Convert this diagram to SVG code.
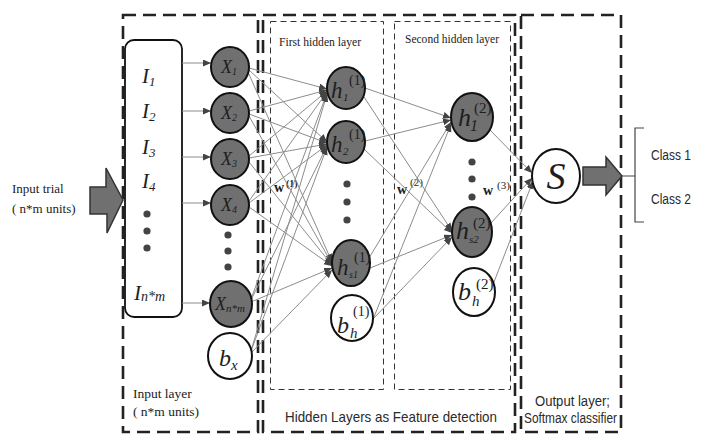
<svg xmlns="http://www.w3.org/2000/svg" width="704" height="435" viewBox="0 0 704 435">
<style>
.outer{fill:none;stroke:#222;stroke-width:2.6;stroke-dasharray:13 7}
.inner{fill:none;stroke:#333;stroke-width:1;stroke-dasharray:6 4}
.c{stroke:#8c8c8c;stroke-width:1;fill:none;marker-end:url(#ah)}
.g{fill:#707070;stroke:#111;stroke-width:2}
.w{fill:#fff;stroke:#111;stroke-width:2}
.ser{font-family:"Liberation Serif","Times New Roman",serif;fill:#222}
.it{font-family:"Liberation Serif","Times New Roman",serif;font-style:italic;fill:#1e1e1e}
.up{font-family:"Liberation Serif","Times New Roman",serif;fill:#1e1e1e}
.sans{font-family:"Liberation Sans",Arial,sans-serif;fill:#2a2a2a}
.bigarrow{fill:#707070;stroke:#333;stroke-width:1.5}
</style>
<defs>
<marker id="ah" markerUnits="userSpaceOnUse" markerWidth="9" markerHeight="8" refX="8" refY="3.5" orient="auto">
<path d="M0,0 L8,3.5 L0,7 z" fill="#444"/>
</marker>
</defs>
<rect width="704" height="435" fill="#fff"/>

<g id="frames">
<rect class="outer" x="123" y="15" width="135" height="417"/>
<rect class="outer" x="263" y="15" width="252" height="417"/>
<rect class="outer" x="521" y="15" width="100" height="417"/>
<rect class="inner" x="270.5" y="21.5" width="113" height="368"/>
<rect class="inner" x="394.5" y="21.5" width="116" height="368"/>
</g>

<g id="labels">
<text class="ser" x="12" y="193" font-size="13">Input trial</text>
<text class="ser" x="12" y="213" font-size="13">( n*m units)</text>
<text class="ser" x="133" y="398" font-size="13.5">Input layer</text>
<text class="ser" x="133" y="416" font-size="13.5">( n*m units)</text>
<text class="ser" x="279" y="46" font-size="13.5" textLength="82" lengthAdjust="spacingAndGlyphs">First hidden layer</text>
<text class="ser" x="405" y="43" font-size="13.5" textLength="94" lengthAdjust="spacingAndGlyphs">Second hidden layer</text>
<text class="sans" x="285" y="422" font-size="15" textLength="212" lengthAdjust="spacingAndGlyphs">Hidden Layers as Feature detection</text>
<text class="sans" x="535" y="406" font-size="14" textLength="75" lengthAdjust="spacingAndGlyphs">Output layer;</text>
<text class="sans" x="524" y="423" font-size="14" textLength="93" lengthAdjust="spacingAndGlyphs">Softmax classifier</text>
<text class="sans" x="651" y="160" font-size="14" textLength="40" lengthAdjust="spacingAndGlyphs">Class 1</text>
<text class="sans" x="651" y="204" font-size="14" textLength="40" lengthAdjust="spacingAndGlyphs">Class 2</text>
<text class="up" x="274" y="192" font-size="14" font-weight="bold">w</text>
<text class="up" x="286" y="187" font-size="10" font-weight="bold">(1)</text>
<text class="up" x="397" y="194" font-size="14" font-weight="bold">w</text>
<text class="up" x="410" y="186" font-size="11">(2)</text>
<text class="up" x="483" y="195" font-size="14" font-weight="bold">w</text>
<text class="up" x="497" y="189" font-size="11">(3)</text>
</g>

<g id="input-arrow">
<polygon class="bigarrow" points="90,187 106,187 106,168 123,200 107,233 107,214 90,214"/>
</g>

<g id="input-box">
<rect x="125" y="40" width="57" height="277" rx="9" fill="#fff" stroke="#111" stroke-width="1.8"/>
<text class="it" x="142" y="83" font-size="21">I<tspan font-size="13" dy="3">1</tspan></text>
<text class="it" x="142" y="118" font-size="21">I<tspan font-size="13" dy="3">2</tspan></text>
<text class="it" x="142" y="154" font-size="21">I<tspan font-size="13" dy="3">3</tspan></text>
<text class="it" x="142" y="188" font-size="21">I<tspan font-size="13" dy="3">4</tspan></text>
<circle cx="147" cy="214" r="3.6" fill="#444"/>
<circle cx="147" cy="231" r="3.6" fill="#444"/>
<circle cx="147" cy="248" r="3.6" fill="#444"/>
<text class="it" x="134" y="300" font-size="21">I<tspan font-size="14" dy="1">n*m</tspan></text>
</g>

<g id="connectors">
<line class="c" x1="182" y1="63" x2="211" y2="63"/>
<line class="c" x1="182" y1="111" x2="211" y2="111"/>
<line class="c" x1="182" y1="157" x2="211" y2="157"/>
<line class="c" x1="182" y1="203" x2="211" y2="203"/>
<line class="c" x1="182" y1="303" x2="210" y2="303"/>

<line class="c" x1="249" y1="68" x2="327" y2="89"/>
<line class="c" x1="249" y1="70" x2="327" y2="142"/>
<line class="c" x1="248" y1="72" x2="332" y2="262"/>
<line class="c" x1="249" y1="111" x2="327" y2="90"/>
<line class="c" x1="249" y1="114" x2="327" y2="143"/>
<line class="c" x1="249" y1="116" x2="332" y2="264"/>
<line class="c" x1="249" y1="156" x2="327" y2="91"/>
<line class="c" x1="249" y1="158" x2="327" y2="144"/>
<line class="c" x1="249" y1="162" x2="332" y2="265"/>
<line class="c" x1="249" y1="201" x2="327" y2="92"/>
<line class="c" x1="249" y1="203" x2="327" y2="145"/>
<line class="c" x1="249" y1="207" x2="332" y2="266"/>
<line class="c" x1="251" y1="299" x2="327" y2="93"/>
<line class="c" x1="251" y1="300" x2="327" y2="146"/>
<line class="c" x1="251" y1="302" x2="332" y2="268"/>
<line class="c" x1="251" y1="351" x2="327" y2="94"/>
<line class="c" x1="251" y1="351" x2="327" y2="147"/>
<line class="c" x1="251" y1="353" x2="332" y2="270"/>

<line class="c" x1="365" y1="88" x2="451" y2="118"/>
<line class="c" x1="364" y1="97" x2="452" y2="231"/>
<line class="c" x1="365" y1="141" x2="451" y2="120"/>
<line class="c" x1="364" y1="149" x2="452" y2="233"/>
<line class="c" x1="369" y1="258" x2="451" y2="122"/>
<line class="c" x1="370" y1="268" x2="452" y2="235"/>
<line class="c" x1="372" y1="322" x2="451" y2="124"/>
<line class="c" x1="372" y1="320" x2="452" y2="237"/>

<line class="c" x1="490" y1="130" x2="532" y2="173"/>
<line class="c" x1="491" y1="223" x2="532" y2="178"/>
<line class="c" x1="494" y1="282" x2="533" y2="181"/>
</g>

<g id="node-x1"><ellipse class="g" cx="230" cy="67" rx="19" ry="20"/><text class="it" x="221" y="73" font-size="18">X<tspan font-size="10" dy="2">1</tspan></text></g>
<g id="node-x2"><ellipse class="g" cx="230" cy="113" rx="19" ry="20"/><text class="it" x="221" y="119" font-size="18">X<tspan font-size="10" dy="2">2</tspan></text></g>
<g id="node-x3"><ellipse class="g" cx="230" cy="159" rx="19" ry="20"/><text class="it" x="221" y="165" font-size="18">X<tspan font-size="10" dy="2">3</tspan></text></g>
<g id="node-x4"><ellipse class="g" cx="230" cy="205" rx="19" ry="20"/><text class="it" x="221" y="211" font-size="18">X<tspan font-size="10" dy="2">4</tspan></text></g>
<g id="dots-x"><circle cx="228" cy="235" r="3.6" fill="#444"/><circle cx="228" cy="251" r="3.6" fill="#444"/><circle cx="228" cy="267" r="3.6" fill="#444"/></g>
<g id="node-xnm"><ellipse class="g" cx="231" cy="304" rx="21" ry="23"/><text class="it" x="215" y="310" font-size="18">X<tspan font-size="11" dy="2">n*m</tspan></text></g>
<g id="node-bx"><ellipse class="w" cx="230" cy="356" rx="22" ry="23"/><text class="it" x="219" y="366" font-size="24">b<tspan font-size="15" dy="4">x</tspan></text></g>

<g id="node-h1-1"><ellipse class="g" cx="346" cy="88" rx="19" ry="21"/><text class="it" x="331" y="98" font-size="23">h</text><text class="it" x="343" y="101" font-size="11">1</text><text class="up" x="349" y="85" font-size="14">(1)</text></g>
<g id="node-h2-1"><ellipse class="g" cx="346" cy="142" rx="19" ry="21"/><text class="it" x="331" y="152" font-size="23">h</text><text class="it" x="343" y="155" font-size="11">2</text><text class="up" x="349" y="139" font-size="14">(1)</text></g>
<g id="dots-h1"><circle cx="347" cy="184" r="3.6" fill="#444"/><circle cx="347" cy="202" r="3.6" fill="#444"/><circle cx="347" cy="220" r="3.6" fill="#444"/></g>
<g id="node-hs1"><ellipse class="g" cx="351" cy="263" rx="19" ry="23"/><text class="it" x="337" y="275" font-size="23">h</text><text class="it" x="349" y="278" font-size="10">s1</text><text class="up" x="354" y="262" font-size="14">(1)</text></g>
<g id="node-bh1"><ellipse class="w" cx="352" cy="318" rx="21" ry="23"/><text class="it" x="337" y="333" font-size="24">b</text><text class="it" x="350" y="338" font-size="15">h</text><text class="up" x="353" y="316" font-size="14">(1)</text></g>

<g id="node-h1-2"><ellipse class="g" cx="472" cy="117" rx="21" ry="24"/><text class="it" x="458" y="126" font-size="26">h</text><text class="it" x="470" y="131" font-size="16">1</text><text class="up" x="474" y="113" font-size="15">(2)</text></g>
<g id="dots-h2"><circle cx="472" cy="162" r="3.6" fill="#444"/><circle cx="472" cy="179" r="3.6" fill="#444"/><circle cx="472" cy="197" r="3.6" fill="#444"/></g>
<g id="node-hs2"><ellipse class="g" cx="472" cy="232" rx="20" ry="25"/><text class="it" x="456" y="239" font-size="26">h</text><text class="it" x="469" y="243" font-size="11">s2</text><text class="up" x="473" y="228" font-size="15">(2)</text></g>
<g id="node-bh2"><ellipse class="w" cx="474" cy="292" rx="21" ry="24"/><text class="it" x="458" y="300" font-size="26">b</text><text class="it" x="472" y="306" font-size="15">h</text><text class="up" x="476" y="289" font-size="15">(2)</text></g>

<g id="node-s"><ellipse class="w" cx="556" cy="176" rx="24" ry="27"/><text class="it" x="556" y="189" font-size="38" text-anchor="middle">S</text></g>

<g id="output-arrow">
<polygon class="bigarrow" points="583,167 606,167 606,157 622,176 606,195 606,185 583,185"/>
</g>

<g id="classes">
<path d="M644,128 L635,128 L635,222 L644,222 M623,176 L635,176" fill="none" stroke="#444" stroke-width="1.2"/>
</g>
</svg>
